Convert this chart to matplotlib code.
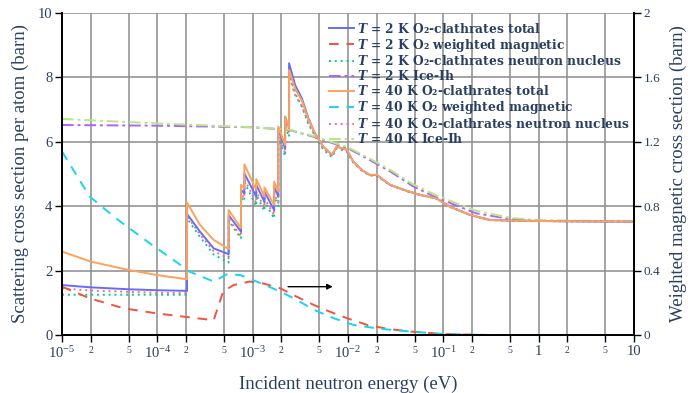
"""
Scattering cross sections of O2-clathrates vs Ice-Ih (2 K and 40 K)
"""

import numpy as np
import matplotlib
matplotlib.use("Agg")
import matplotlib.pyplot as plt
from matplotlib.lines import Line2D
from matplotlib.ticker import LogLocator, FuncFormatter

# ---- data ----
# shared energy grid for totals / nuclear parts (duplicated energies = Bragg edges)
energy = [1e-5, 2e-5, 5e-5, 1e-4, 2.05e-4, 2.05e-4, 2.8e-4, 3.9e-4, 5.6e-4, 5.6e-4,
          7.55e-4, 7.55e-4, 8.18e-4, 8.18e-4, 1.09e-3, 1.09e-3, 1.33e-3, 1.33e-3,
          1.68e-3, 1.68e-3, 1.86e-3, 1.86e-3, 2.19e-3, 2.19e-3, 2.41e-3, 2.41e-3,
          2.79e-3, 3.28e-3, 3.84e-3, 4.52e-3, 5.5e-3, 6.8e-3, 7.6e-3, 9.7e-3,
          1.14e-2, 1.4e-2, 1.7e-2, 2.0e-2, 2.77e-2, 4.1e-2, 5.7e-2, 8.5e-2,
          0.118, 0.19, 0.31, 0.6, 2.0, 10.0]

total_2k = [1.55, 1.48, 1.42, 1.39, 1.37, 3.76, 3.21, 2.69, 2.51, 3.72,
            3.21, 4.50, 4.40, 5.02, 4.30, 4.66, 4.14, 4.45, 3.88, 4.60,
            4.30, 6.42, 5.80, 6.78, 6.42, 8.44, 7.76, 7.35, 6.73, 6.25,
            5.85, 5.59, 5.85, 5.75, 5.38, 5.12, 4.97, 4.97, 4.66, 4.48,
            4.35, 4.24, 3.98, 3.73, 3.57, 3.55, 3.53, 3.52]
nucleus_2k = [1.25, 1.25, 1.25, 1.25, 1.25, 3.62, 3.05, 2.50, 2.25, 3.55,
              3.00, 4.25, 4.15, 4.75, 4.00, 4.35, 3.85, 4.15, 3.62, 4.30,
              4.00, 6.15, 5.55, 6.50, 6.15, 8.15, 7.50, 7.10, 6.55, 6.18,
              5.76, 5.52, 5.80, 5.70, 5.35, 5.10, 4.95, 4.95, 4.65, 4.47,
              4.35, 4.24, 3.98, 3.73, 3.57, 3.55, 3.53, 3.52]
total_40k = [2.59, 2.28, 2.02, 1.86, 1.73, 4.11, 3.42, 2.95, 2.67, 3.88,
             3.32, 4.66, 4.55, 5.30, 4.50, 4.84, 4.30, 4.58, 4.04, 4.76,
             4.45, 6.47, 5.90, 6.78, 6.42, 8.23, 7.65, 7.28, 6.70, 6.25,
             5.85, 5.60, 5.85, 5.76, 5.38, 5.12, 4.97, 4.98, 4.66, 4.48,
             4.35, 4.24, 3.98, 3.73, 3.57, 3.55, 3.53, 3.52]
nucleus_40k = [1.45, 1.38, 1.34, 1.31, 1.30, 3.70, 3.12, 2.60, 2.38, 3.60,
               3.05, 4.35, 4.25, 4.85, 4.10, 4.45, 3.95, 4.25, 3.72, 4.40,
               4.10, 6.25, 5.65, 6.60, 6.25, 8.05, 7.45, 7.10, 6.60, 6.20,
               5.80, 5.55, 5.82, 5.72, 5.36, 5.10, 4.96, 4.96, 4.66, 4.48,
               4.35, 4.24, 3.98, 3.73, 3.57, 3.55, 3.53, 3.52]

energy_ice = [1e-5, 1e-4, 1e-3, 2.4e-3, 4.3e-3, 1e-2, 1.7e-2, 2.8e-2, 4.8e-2,
              8e-2, 0.13, 0.22, 0.5, 1.0, 10.0]
ice_2k = [6.52, 6.50, 6.45, 6.37, 6.16, 5.80, 5.43, 5.07, 4.62, 4.30, 4.05,
          3.78, 3.60, 3.55, 3.52]
ice_40k = [6.71, 6.57, 6.45, 6.38, 6.18, 5.83, 5.47, 5.12, 4.68, 4.37, 4.12,
           3.86, 3.64, 3.56, 3.53]

# weighted magnetic part (right axis)
energy_mag_2k = [1e-5, 1.95e-5, 4.4e-5, 9.9e-5, 2.6e-4, 3.9e-4, 4.9e-4, 6.3e-4,
                 9.3e-4, 1.29e-3, 1.95e-3, 2.9e-3, 4.4e-3, 6.5e-3, 9.8e-3,
                 1.6e-2, 2.6e-2, 4.8e-2, 0.1, 0.3, 10.0]
magnetic_2k = [0.30, 0.228, 0.166, 0.134, 0.104, 0.092, 0.27, 0.31, 0.332,
               0.32, 0.29, 0.238, 0.186, 0.144, 0.104, 0.062, 0.038, 0.02,
               0.006, 0.0, 0.0]
energy_mag_40k = [1e-5, 1.95e-5, 3.7e-5, 8.3e-5, 1.86e-4, 2.05e-4, 3.9e-4,
                  5.4e-4, 7.4e-4, 1.1e-3, 1.95e-3, 2.9e-3, 4.4e-3, 7.1e-3,
                  1.15e-2, 2.2e-2, 4.8e-2, 0.1, 0.3, 10.0]
magnetic_40k = [1.14, 0.86, 0.724, 0.57, 0.424, 0.40, 0.332, 0.378, 0.372,
                0.332, 0.27, 0.218, 0.156, 0.104, 0.062, 0.038, 0.02, 0.006,
                0.0, 0.0]

labels = [
    "$T$ = 2 K O₂-clathrates total",
    "$T$ = 2 K O₂ weighted magnetic",
    "$T$ = 2 K O₂-clathrates neutron nucleus",
    "$T$ = 2 K Ice-Ih",
    "$T$ = 40 K O₂-clathrates total",
    "$T$ = 40 K O₂ weighted magnetic",
    "$T$ = 40 K O₂-clathrates neutron nucleus",
    "$T$ = 40 K Ice-Ih",
]

# ---- style ----
TXT = "#2a3f5f"
plt.rcParams["font.family"] = ["Liberation Serif", "DejaVu Serif"]
plt.rcParams["mathtext.fontset"] = "custom"
plt.rcParams["mathtext.rm"] = "Liberation Serif"
plt.rcParams["mathtext.it"] = "DejaVu Serif:italic:bold"

fig = plt.figure(figsize=(6.88, 3.93), dpi=100)
ax = fig.add_axes([0.0901, 0.1476, 0.8314, 0.8194])
ax2 = ax.twinx()

lw = 1.4
dash = (0, (5, 4))
dot = (0, (1, 2))
dashdot = (0, (6, 2, 1.5, 2))
ax.plot(energy, total_2k, color="#636efa", lw=lw, zorder=5)
ax.plot(energy, nucleus_2k, color="#00cc96", lw=lw, ls=dot, zorder=4)
ax.plot(energy_ice, ice_2k, color="#ab63fa", lw=lw, ls=dashdot, zorder=4)
ax.plot(energy, total_40k, color="#ffa15a", lw=lw, zorder=5)
ax.plot(energy, nucleus_40k, color="#ff6692", lw=lw, ls=dot, zorder=4)
ax.plot(energy_ice, ice_40k, color="#b6e880", lw=lw, ls=dashdot, zorder=4)
ax2.plot(energy_mag_2k, magnetic_2k, color="#ef553b", lw=lw, ls=dash)
ax2.plot(energy_mag_40k, magnetic_40k, color="#19d3f3", lw=lw, ls=dash)

# arrow pointing to the right axis
ax2.annotate("", xy=(7.4e-3, 0.3), xytext=(2.2e-3, 0.3),
             arrowprops=dict(arrowstyle="-|>", color="black", lw=1.0,
                             mutation_scale=8))

ax.set_xscale("log")
ax.set_xlim(1e-5, 10)
ax.set_ylim(0, 10)
ax2.set_ylim(0, 2)
ax.set_yticks([0, 2, 4, 6, 8, 10])
ax2.set_yticks([0, 0.4, 0.8, 1.2, 1.6, 2])
ax2.set_yticklabels(["0", "0.4", "0.8", "1.2", "1.6", "2"])

def major_fmt(v, pos):
    e = int(round(np.log10(v)))
    if e == 0:
        return "1"
    if e == 1:
        return "10"
    return "$10^{%d}$" % e

def minor_fmt(v, pos):
    m = v / 10 ** np.floor(np.log10(v) + 1e-9)
    return "%d" % round(m)

ax.xaxis.set_major_locator(LogLocator(base=10, numticks=20))
ax.xaxis.set_minor_locator(LogLocator(base=10, subs=(2, 5), numticks=20))
ax.xaxis.set_major_formatter(FuncFormatter(major_fmt))
ax.xaxis.set_minor_formatter(FuncFormatter(minor_fmt))

ax.grid(True, which="both", axis="x", color="#8c8c8c", lw=1.1)
ax.grid(True, which="major", axis="y", color="#8c8c8c", lw=1.1)
ax.set_axisbelow(True)

for a in (ax, ax2):
    a.spines["top"].set_visible(False)
    for s in a.spines.values():
        s.set_linewidth(1.4)
ax.tick_params(axis="both", which="major", direction="out", length=5, width=1,
               labelsize=10.5, labelcolor=TXT, pad=2)
ax.tick_params(axis="x", which="minor", direction="out", length=5, width=1,
               labelsize=7, labelcolor=TXT, pad=3)
ax2.tick_params(axis="y", direction="out", length=5, width=1, labelsize=9.5,
                labelcolor=TXT, pad=2)

ax.set_xlabel("Incident neutron energy (eV)", fontsize=13.5, color=TXT, labelpad=10)
ax.set_ylabel("Scattering cross section per atom (barn)", fontsize=13.5, color=TXT,
              labelpad=6)
ax2.set_ylabel("Weighted magnetic cross section (barn)", fontsize=13.5, color=TXT,
               labelpad=7)

handles = [
    Line2D([], [], color="#636efa", lw=lw),
    Line2D([], [], color="#ef553b", lw=lw, ls=dash),
    Line2D([], [], color="#00cc96", lw=lw, ls=dot),
    Line2D([], [], color="#ab63fa", lw=lw, ls=dashdot),
    Line2D([], [], color="#ffa15a", lw=lw),
    Line2D([], [], color="#19d3f3", lw=lw, ls=dash),
    Line2D([], [], color="#ff6692", lw=lw, ls=dot),
    Line2D([], [], color="#b6e880", lw=lw, ls=dashdot),
]
leg = ax2.legend(handles, labels, loc="upper left", bbox_to_anchor=(0.452, 1.0),
                 frameon=False, handlelength=2.0, handletextpad=0.3,
                 labelspacing=0.08, borderaxespad=0.3,
                 prop={"family": "DejaVu Serif", "weight": "bold", "size": 8.8})
for t in leg.get_texts():
    t.set_color(TXT)

fig.savefig("out.png", dpi=100)
